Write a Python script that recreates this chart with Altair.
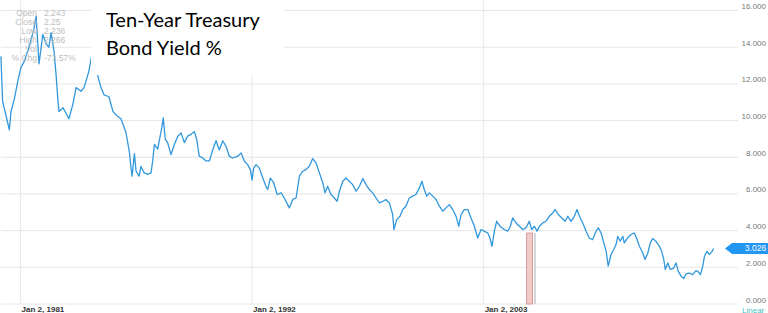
import altair as alt
import numpy as np
import pandas as pd

# ---- data (decimal year, yield %) ----
years = [1980.07, 1980.15, 1980.47, 1980.55, 1980.71, 1980.87, 1981.02, 1981.17, 1981.40, 1981.64,
         1981.74, 1981.88, 1982.06, 1982.21, 1982.35, 1982.45, 1982.59, 1982.69, 1982.78, 1982.83,
         1983.02, 1983.16, 1983.30, 1983.49, 1983.64, 1983.87, 1984.02, 1984.25, 1984.42, 1984.54,
         1984.68, 1984.82, 1984.97, 1985.20, 1985.39, 1985.54, 1985.77, 1986.01, 1986.17, 1986.25,
         1986.30, 1986.41, 1986.49, 1986.64, 1986.72, 1986.88, 1987.04, 1987.20, 1987.28, 1987.36,
         1987.52, 1987.59, 1987.71, 1987.78, 1987.88, 1987.99, 1988.15, 1988.31, 1988.47, 1988.63,
         1988.78, 1988.94, 1989.10, 1989.26, 1989.37, 1989.49, 1989.66, 1989.81, 1989.97, 1990.13,
         1990.29, 1990.44, 1990.61, 1990.76, 1990.92, 1991.08, 1991.32, 1991.48, 1991.63, 1991.79,
         1991.93, 1992.00, 1992.08, 1992.19, 1992.34, 1992.51, 1992.66, 1992.74, 1992.87, 1993.03,
         1993.19, 1993.38, 1993.53, 1993.69, 1993.77, 1993.93, 1994.09, 1994.25, 1994.41, 1994.56,
         1994.72, 1994.88, 1995.04, 1995.20, 1995.36, 1995.47, 1995.59, 1995.75, 1995.91, 1996.04,
         1996.15, 1996.31, 1996.46, 1996.62, 1996.78, 1996.94, 1997.10, 1997.26, 1997.41, 1997.57,
         1997.73, 1997.89, 1998.05, 1998.21, 1998.36, 1998.52, 1998.68, 1998.74, 1998.87, 1999.03,
         1999.16, 1999.31, 1999.47, 1999.63, 1999.79, 1999.95, 2000.07, 2000.18, 2000.30, 2000.42,
         2000.58, 2000.74, 2000.90, 2001.06, 2001.21, 2001.37, 2001.53, 2001.69, 2001.82, 2001.93,
         2002.08, 2002.25, 2002.40, 2002.56, 2002.72, 2002.88, 2003.03, 2003.20, 2003.30, 2003.40,
         2003.51, 2003.62, 2003.78, 2003.98, 2004.15, 2004.27, 2004.38, 2004.54, 2004.70, 2004.86,
         2005.01, 2005.17, 2005.28, 2005.41, 2005.54, 2005.65, 2005.81, 2005.96, 2006.12, 2006.28,
         2006.39, 2006.55, 2006.71, 2006.87, 2007.00, 2007.15, 2007.31, 2007.44, 2007.55, 2007.71,
         2007.87, 2008.02, 2008.18, 2008.34, 2008.45, 2008.58, 2008.71, 2008.82, 2008.92, 2009.05,
         2009.18, 2009.29, 2009.37, 2009.49, 2009.61, 2009.68, 2009.84, 2010.00, 2010.16, 2010.29,
         2010.40, 2010.56, 2010.67, 2010.80, 2010.92, 2011.03, 2011.19, 2011.35, 2011.46, 2011.56,
         2011.63, 2011.75, 2011.87, 2012.03, 2012.14, 2012.25, 2012.38, 2012.51, 2012.62, 2012.77,
         2012.93, 2013.09, 2013.20, 2013.30, 2013.41, 2013.49, 2013.61, 2013.72, 2013.84, 2013.93]
yields = [13.50, 11.05, 9.50, 10.50, 11.20, 12.15, 12.90, 13.20, 14.00, 15.00,
          15.70, 13.10, 14.70, 14.20, 14.00, 14.80, 13.80, 12.50, 11.05, 10.50,
          10.70, 10.40, 10.10, 10.90, 11.80, 11.60, 11.80, 12.70, 13.80, 13.30,
          12.40, 11.80, 11.40, 11.30, 10.50, 10.30, 10.10, 9.35, 8.30, 7.40,
          6.97, 8.20, 7.24, 6.97, 7.50, 7.15, 7.07, 7.15, 7.80, 8.70,
          8.45, 8.90, 9.60, 10.15, 8.97, 8.80, 8.15, 8.70, 9.15, 9.33,
          8.80, 9.15, 9.25, 9.40, 8.97, 8.06, 7.96, 7.80, 7.80, 8.40,
          8.90, 8.40, 8.90, 8.60, 8.06, 7.96, 8.06, 8.24, 7.80, 7.60,
          7.30, 6.75, 7.42, 7.60, 7.42, 6.87, 6.42, 6.24, 6.87, 6.60,
          5.97, 6.06, 5.78, 5.42, 5.24, 5.70, 5.78, 6.97, 7.24, 7.33,
          7.51, 7.93, 7.69, 7.15, 6.60, 6.06, 6.42, 5.97, 5.78, 5.60,
          6.15, 6.69, 6.87, 6.69, 6.51, 6.15, 6.42, 6.84, 6.51, 6.24,
          6.06, 5.78, 5.51, 5.60, 5.70, 5.51, 4.88, 4.06, 4.60, 4.78,
          5.15, 5.33, 5.78, 5.88, 5.97, 6.33, 6.69, 6.24, 5.88, 6.06,
          5.88, 5.70, 5.33, 5.06, 5.24, 5.42, 5.15, 4.78, 4.24, 4.88,
          5.15, 5.15, 4.69, 4.24, 3.60, 4.06, 3.97, 3.87, 3.60, 3.15,
          3.97, 4.51, 4.24, 4.06, 3.97, 4.24, 4.69, 4.42, 4.24, 4.06,
          4.15, 4.51, 4.06, 4.24, 3.97, 4.24, 4.42, 4.51, 4.78, 4.96,
          5.15, 4.88, 4.69, 4.51, 4.78, 4.51, 4.78, 5.15, 4.78, 4.42,
          3.97, 3.60, 3.51, 3.97, 4.15, 3.87, 3.33, 2.87, 2.06, 2.70,
          2.97, 3.24, 3.69, 3.42, 3.69, 3.33, 3.60, 3.79, 3.87, 3.51,
          3.15, 2.78, 2.42, 2.78, 3.33, 3.57, 3.42, 3.15, 2.87, 2.42,
          1.88, 2.24, 1.88, 1.96, 2.24, 1.78, 1.51, 1.39, 1.64, 1.69,
          1.60, 1.82, 1.75, 1.60, 2.06, 2.60, 2.87, 2.70, 2.84, 3.026]

# shaded event markers near early 2005
band_start = [2005.04]
band_end = [2005.32]
band_top = [3.87]
marker_line = [2005.44]

# texts
title_lines = ["Ten-Year Treasury", "Bond Yield %"]
ohlc_labels = ["Open", "Close", "Low", "High", "Vol", "% Chg"]
ohlc_values = ["2.243", "2.25", "2.236", "2.266", "", "-73.57%"]
last_label = ["3.026"]
last_value = [3.026]
scale_mode = ["Linear"]
y_ticks = [0, 2, 4, 6, 8, 10, 12, 14, 16]
y_tick_labels = ["0.000", "2.000", "4.000", "6.000", "8.000", "10.000", "12.000", "14.000", "16.000"]
x_tick_dates = ["1981-01-02", "1992-01-02", "2003-01-02"]
x_tick_labels = ["Jan 2, 1981", "Jan 2, 1992", "Jan 2, 2003"]


def dec2ts(t):
    y = int(np.floor(t))
    start = pd.Timestamp(year=y, month=1, day=1)
    end = pd.Timestamp(year=y + 1, month=1, day=1)
    return (start + (end - start) * (t - y)).round("h")


df = pd.DataFrame({"date": [dec2ts(t) for t in years], "v": yields})
bands = pd.DataFrame({"d1": [dec2ts(t) for t in band_start],
                      "d2": [dec2ts(t) for t in band_end], "top": band_top})
mline = pd.DataFrame({"d": [dec2ts(t) for t in marker_line], "top": band_top})
ygrid = pd.DataFrame({"g": y_ticks, "lab": y_tick_labels})
xgrid = pd.DataFrame({"d": pd.to_datetime(x_tick_dates), "lab": x_tick_labels})

FONT = "Liberation Sans"
W, H = 737, 303

xscale = alt.Scale(domain=[alt.DateTime(year=1980, month=1, date=28),
                           alt.DateTime(year=2015, month=2, date=1)])
yscale = alt.Scale(domain=[0, 16.52], nice=False, zero=False)

X = lambda f: alt.X(f, type="temporal", scale=xscale, axis=None)
Y = lambda f: alt.Y(f, type="quantitative", scale=yscale, axis=None)

hgrid = alt.Chart(ygrid).mark_rule(color="#e6e6e6", strokeWidth=1).encode(
    y=Y("g"), x=alt.value(0), x2=alt.value(W))
vgrid = alt.Chart(xgrid).mark_rule(color="#e8e8e8", strokeWidth=1).encode(
    x=X("d"), y=alt.value(0), y2=alt.value(H))

ylabels = alt.Chart(ygrid).mark_text(font=FONT, fontSize=8, color="#777777", align="right",
                                     baseline="alphabetic", dy=-1.5).encode(
    y=Y("g"), x=alt.value(765), text="lab:N")
xlabels = alt.Chart(xgrid).mark_text(font=FONT, fontSize=8, fontWeight="bold", color="#333333",
                                     align="left", baseline="top", dx=1).encode(
    x=X("d"), y=alt.value(H + 1.5), text="lab:N")

line = alt.Chart(df).mark_line(color="#3197dc", strokeWidth=1.3, strokeJoin="round").encode(
    x=X("date"), y=Y("v"))

band = alt.Chart(bands).mark_rect(fill="#f2caca", stroke="#d99a9a", strokeWidth=1).encode(
    x=X("d1"), x2="d2:T", y=Y("top"), y2=alt.datum(0))
rule = alt.Chart(mline).mark_rule(color="#c9c9c9", strokeWidth=1.5).encode(
    x=X("d"), y=Y("top"), y2=alt.datum(0))

box = alt.Chart(pd.DataFrame({"k": [0]})).mark_rect(color="white").encode(
    x=alt.value(90), x2=alt.value(283), y=alt.value(0), y2=alt.value(74))

layers = [hgrid, vgrid, line, band, rule, box]

title_y = [25.5, 54]
for txt, ty in zip(title_lines, title_y):
    layers.append(alt.Chart(pd.DataFrame({"t": [txt]})).mark_text(
        font="Lato", fontSize=20, color="#000000", align="left", baseline="alphabetic").encode(
        x=alt.value(105), y=alt.value(ty), text="t:N"))

row_y = [11.8, 20.8, 29.8, 38.8, 47.8, 57.0]
for lab, val, ry in zip(ohlc_labels, ohlc_values, row_y):
    layers.append(alt.Chart(pd.DataFrame({"t": [lab]})).mark_text(
        font=FONT, fontSize=8.5, color="#bdbdbd", align="right", baseline="middle").encode(
        x=alt.value(36), y=alt.value(ry), text="t:N"))
    if val:
        layers.append(alt.Chart(pd.DataFrame({"t": [val]})).mark_text(
            font=FONT, fontSize=8.5, color="#bdbdbd", align="left", baseline="middle").encode(
            x=alt.value(43), y=alt.value(ry), text="t:N"))

tagdf = pd.DataFrame({"v": last_value, "t": last_label})
tag = alt.Chart(tagdf).mark_point(
    shape="M-1,0 L-0.67,-0.256 L1,-0.256 L1,0.256 L-0.67,0.256 Z",
    filled=True, size=1849, color="#2196f3", opacity=1, strokeWidth=0).encode(
    x=alt.value(745.5), y=Y("v"))
tagtext = alt.Chart(tagdf).mark_text(font=FONT, fontSize=8.5, color="white",
                                     align="center", baseline="middle").encode(
    x=alt.value(754.5), y=Y("v"), text="t:N")
linear = alt.Chart(pd.DataFrame({"t": scale_mode})).mark_text(
    font=FONT, fontSize=8, color="#45bfc0", align="left", baseline="alphabetic").encode(
    x=alt.value(741), y=alt.value(311.5), text="t:N")
layers += [ylabels, xlabels, tag, tagtext, linear]

chart = alt.layer(*layers).properties(
    width=W, height=H, padding=0, background="white"
).configure_view(stroke=None)

chart.save("out.html", embed_options={"renderer": "svg", "actions": False})
